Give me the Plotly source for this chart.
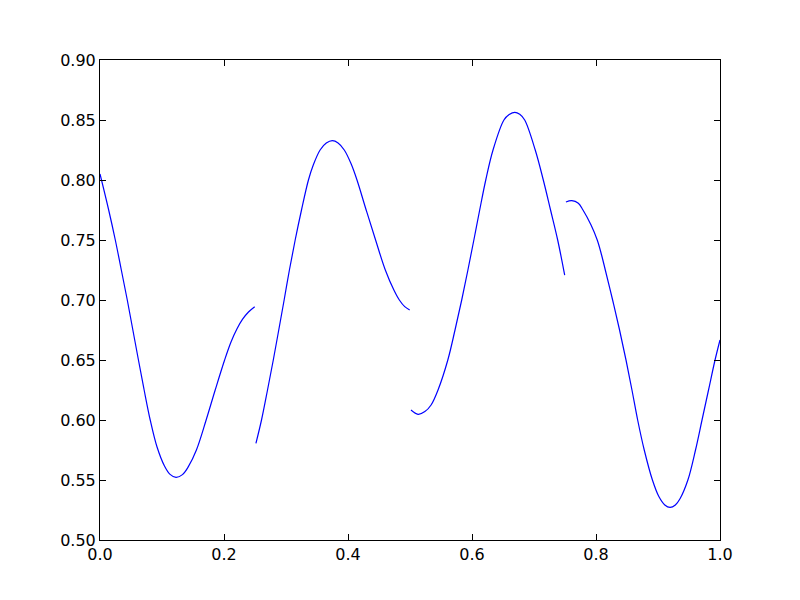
import plotly.graph_objects as go

# Segment 1: x in [0, 0.25]
x1 = [0.0, 0.0140, 0.0247, 0.0344, 0.0440, 0.0530, 0.0620, 0.0712, 0.0810, 0.0920, 0.1040,
      0.1130, 0.1226, 0.1330, 0.1425, 0.1555, 0.1712, 0.1858, 0.2010, 0.2113, 0.2210, 0.2300,
      0.2395, 0.2495]
y1 = [0.805, 0.775, 0.750, 0.725, 0.700, 0.675, 0.650, 0.625, 0.600, 0.5775, 0.5617,
      0.5547, 0.5522, 0.5545, 0.5611, 0.575, 0.600, 0.625, 0.650, 0.665, 0.676, 0.684,
      0.690, 0.6944]

# Segment 2: x in [0.25, 0.5]
x2 = [0.2515, 0.2605, 0.2702, 0.2795, 0.2883, 0.2970, 0.3055, 0.3148, 0.3250, 0.3362, 0.3440,
      0.3550, 0.3650, 0.3747, 0.3840, 0.3940, 0.4050, 0.4145, 0.4293, 0.4445, 0.4602, 0.4740,
      0.4828, 0.4915, 0.4995]
y2 = [0.5806, 0.600, 0.625, 0.650, 0.675, 0.700, 0.725, 0.750, 0.775, 0.800, 0.8125,
      0.825, 0.8308, 0.8328, 0.8309, 0.825, 0.8135, 0.800, 0.775, 0.750, 0.725, 0.7083,
      0.700, 0.6945, 0.6917]

# Segment 3: x in [0.5, 0.75]
x3 = [0.5016, 0.5130, 0.5240, 0.5340, 0.5452, 0.5610, 0.5726, 0.5834, 0.5934, 0.6030, 0.6124,
      0.6222, 0.6339, 0.6515, 0.6600, 0.6690, 0.6770, 0.6850, 0.7020, 0.7150, 0.7267, 0.7382,
      0.7495]
y3 = [0.6083, 0.6047, 0.607, 0.6125, 0.625, 0.650, 0.675, 0.700, 0.725, 0.750, 0.775,
      0.800, 0.825, 0.850, 0.8545, 0.8564, 0.8548, 0.850, 0.825, 0.800, 0.775, 0.750,
      0.7208]

# Segment 4: x in [0.75, 1.0]
x4 = [0.7515, 0.7610, 0.7715, 0.7790, 0.7920, 0.8020, 0.8090, 0.8150, 0.8268, 0.8380, 0.8484,
      0.8580, 0.8672, 0.8778, 0.8910, 0.9016, 0.9110, 0.9194, 0.9280, 0.9355, 0.9482, 0.9605,
      0.9710, 0.9815, 0.9920, 1.0]
y4 = [0.7817, 0.7828, 0.7806, 0.775, 0.7625, 0.750, 0.7375, 0.725, 0.700, 0.675, 0.650,
      0.625, 0.600, 0.575, 0.550, 0.536, 0.5292, 0.5272, 0.5292, 0.5344, 0.550, 0.575,
      0.600, 0.625, 0.650, 0.6667]

segments = [(x1, y1), (x2, y2), (x3, y3), (x4, y4)]

x_ticks = [0.0, 0.2, 0.4, 0.6, 0.8, 1.0]
x_tick_labels = ["0.0", "0.2", "0.4", "0.6", "0.8", "1.0"]
y_ticks = [0.50, 0.55, 0.60, 0.65, 0.70, 0.75, 0.80, 0.85, 0.90]
y_tick_labels = ["0.50", "0.55", "0.60", "0.65", "0.70", "0.75", "0.80", "0.85", "0.90"]

fig = go.Figure()
for xs, ys in segments:
    fig.add_trace(go.Scatter(x=xs, y=ys, mode="lines",
                             line=dict(color="#0000ff", width=1.2, shape="spline", smoothing=1.0),
                             showlegend=False, hoverinfo="skip"))

axis_common = dict(showgrid=False, zeroline=False, showline=True, linecolor="black", linewidth=1,
                   mirror="allticks", ticks="inside", ticklen=6, tickwidth=1, tickcolor="black",
                   tickfont=dict(family="DejaVu Sans", size=16, color="black"))

fig.update_layout(
    width=800, height=600,
    margin=dict(l=92, r=88, t=52, b=68),
    paper_bgcolor="white", plot_bgcolor="white",
    xaxis=dict(range=[0, 1], tickvals=x_ticks, ticktext=x_tick_labels, **axis_common),
    yaxis=dict(range=[0.5, 0.9], tickvals=y_ticks, ticktext=y_tick_labels, **axis_common),
)

fig.write_html("out.html")
